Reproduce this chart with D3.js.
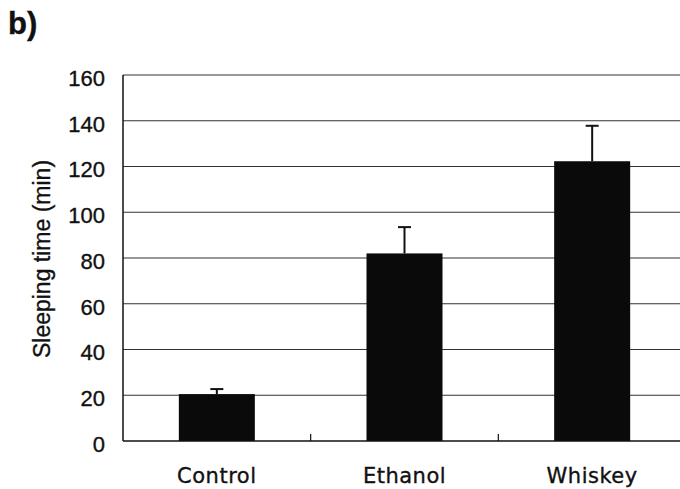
<!DOCTYPE html>
<html>
<head>
<meta charset="utf-8">
<script src="https://cdn.jsdelivr.net/npm/d3@7"></script>
<style>
  body { margin: 0; background: #fff; }
  svg { display: block; }
  text { font-family: "Liberation Sans", Arial, sans-serif; fill: #111; stroke: #111; stroke-width: 0.35px; }
</style>
</head>
<body>
<svg id="chart"></svg>
<script>
// values
const categories = ["Control", "Ethanol", "Whiskey"];
const means = [20.5, 82, 122.3];
const errors = [2.2, 11.5, 15.5];
const yTicks = [0, 20, 40, 60, 80, 100, 120, 140, 160];

const svgWidth = 680,
    svgHeight = 489;

// plot area (right edge runs off the picture)
const plot = {left: 123, right: 686, top: 75, bottom: 441};

const chart = d3.select("#chart")
    .attr("width", svgWidth)
    .attr("height", svgHeight);

var xScale = d3.scaleBand()
    .domain(categories)
    .range([plot.left, plot.right])
    .paddingInner(0.595)
    .paddingOuter(0.2975);

// separate band scale with no padding, for the category tick marks
var xStep = d3.scaleBand().domain(categories).range([plot.left, plot.right]);

var yScale = d3.scaleLinear().domain([0, 160]).range([plot.bottom, plot.top]);

// gridlines
chart.append("g")
    .selectAll("line")
    .data(yTicks.filter(d => d > 0))
    .enter()
    .append("line")
    .attr("x1", plot.left)
    .attr("x2", svgWidth)
    .attr("y1", d => yScale(d))
    .attr("y2", d => yScale(d))
    .attr("stroke", "#333")
    .attr("stroke-width", 1.1);

// y tick labels
chart.append("g")
    .selectAll("text")
    .data(yTicks)
    .enter()
    .append("text")
    .attr("x", plot.left - 18)
    .attr("y", d => yScale(d) + 3)
    .attr("dy", "0.36em")
    .attr("text-anchor", "end")
    .style("font-size", "22px")
    .text(d => d);

// bars
chart.append("g")
    .selectAll("rect")
    .data(categories)
    .enter()
    .append("rect")
    .attr("x", d => xScale(d))
    .attr("width", xScale.bandwidth())
    .attr("y", (d, i) => yScale(means[i]))
    .attr("height", (d, i) => yScale(0) - yScale(means[i]))
    .attr("fill", "#0a0a0a");

// error bars (upper only)
var err = chart.append("g").attr("stroke", "#111").attr("stroke-width", 2);
categories.forEach(function(c, i) {
    var cx = xScale(c) + xScale.bandwidth() / 2;
    err.append("line")
        .attr("x1", cx).attr("x2", cx)
        .attr("y1", yScale(means[i]))
        .attr("y2", yScale(means[i] + errors[i]));
    err.append("line")
        .attr("x1", cx - 6.5).attr("x2", cx + 6.5)
        .attr("y1", yScale(means[i] + errors[i]))
        .attr("y2", yScale(means[i] + errors[i]));
});

// axes lines
chart.append("line")
    .attr("x1", plot.left).attr("x2", plot.left)
    .attr("y1", plot.top).attr("y2", plot.bottom)
    .attr("stroke", "#111").attr("stroke-width", 1.5);
chart.append("line")
    .attr("x1", plot.left).attr("x2", svgWidth)
    .attr("y1", plot.bottom).attr("y2", plot.bottom)
    .attr("stroke", "#111").attr("stroke-width", 1.5);

// category tick marks between bands
chart.append("g")
    .selectAll("line")
    .data(categories.slice(1))
    .enter()
    .append("line")
    .attr("x1", d => xStep(d))
    .attr("x2", d => xStep(d))
    .attr("y1", plot.bottom)
    .attr("y2", plot.bottom - 7)
    .attr("stroke", "#111")
    .attr("stroke-width", 1.2);

// category labels
chart.append("g")
    .selectAll("text")
    .data(categories)
    .enter()
    .append("text")
    .attr("x", d => xScale(d) + xScale.bandwidth() / 2)
    .attr("y", 483)
    .attr("text-anchor", "middle")
    .style("font-family", "'DejaVu Sans', sans-serif")
    .style("font-size", "21px")
    .style("letter-spacing", "0.5px")
    .text(d => d);

// y axis title
chart.append("text")
    .attr("transform", "translate(50," + ((plot.top + plot.bottom) / 2 + 1) + ") rotate(-90)")
    .attr("text-anchor", "middle")
    .style("font-size", "23px")
    .text("Sleeping time (min)");

// panel label
chart.append("text")
    .attr("x", 8)
    .attr("y", 34)
    .style("font-size", "31px")
    .style("font-weight", "bold")
    .text("b)");
</script>
</body>
</html>
